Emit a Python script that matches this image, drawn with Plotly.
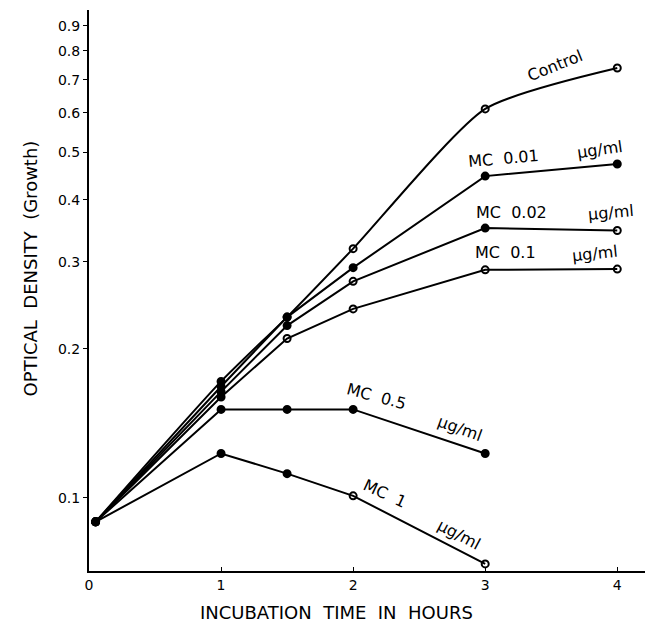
import math
import plotly.graph_objects as go

# ---- data ----
hours_full = [0.05, 1, 1.5, 2, 3, 4]
hours_short = [0.05, 1, 1.5, 2, 3]

control = [0.0895, 0.172, 0.232, 0.319, 0.611, 0.739]
mc_001 = [0.0895, 0.168, 0.232, 0.292, 0.447, 0.473]
mc_002 = [0.0895, 0.164, 0.223, 0.274, 0.351, 0.347]
mc_01 = [0.0895, 0.160, 0.210, 0.241, 0.289, 0.290]
mc_05 = [0.0895, 0.151, 0.151, 0.151, 0.123]
mc_1 = [0.0895, 0.123, 0.112, 0.101, 0.0736]

y_ticks = [0.1, 0.2, 0.3, 0.4, 0.5, 0.6, 0.7, 0.8, 0.9]
y_tick_labels = ["0.1", "0.2", "0.3", "0.4", "0.5", "0.6", "0.7", "0.8", "0.9"]
x_ticks = [0, 1, 2, 3, 4]
x_tick_labels = ["0", "1", "2", "3", "4"]

FONT = "DejaVu Sans"
F, O = "circle", "circle-open"

series = [
    ("Control", hours_full, control, "spline", [F, F, F, O, O, O]),
    ("MC 0.01", hours_full, mc_001, "linear", [F, F, F, F, F, F]),
    ("MC 0.02", hours_full, mc_002, "linear", [F, F, F, O, F, O]),
    ("MC 0.1", hours_full, mc_01, "linear", [F, F, O, O, O, O]),
    ("MC 0.5", hours_short, mc_05, "linear", [F, F, F, F, F]),
    ("MC 1", hours_short, mc_1, "linear", [F, F, F, O, O]),
]

fig = go.Figure()
for name, xs, ys, shape, syms in series:
    fig.add_trace(go.Scatter(
        x=xs, y=ys, mode="lines+markers", name=name,
        line=dict(color="black", width=2, shape=shape, smoothing=0.6),
        marker=dict(symbol=syms, size=7, color="black",
                    line=dict(color="black", width=2)),
        showlegend=False, hoverinfo="skip",
    ))

NB = "\u00a0"
labels = [
    ("Control", 3.53, 0.749, -22),
    ("MC" + NB + " 0.01", 3.14, 0.486, -5),
    ("\u03bcg/ml", 3.87, 0.505, -8),
    ("MC" + NB + " 0.02", 3.20, 0.378, 0),
    ("\u03bcg/ml", 3.95, 0.378, -5),
    ("MC" + NB + " 0.1", 3.15, 0.313, 0),
    ("\u03bcg/ml", 3.83, 0.312, -6),
    ("MC" + NB + " 0.5", 2.18, 0.160, 15),
    ("\u03bcg/ml", 2.81, 0.138, 20),
    ("MC" + NB + " 1", 2.24, 0.1019, 25),
    ("\u03bcg/ml", 2.80, 0.0842, 28),
]
for text, x, y, ang in labels:
    fig.add_annotation(x=x, y=math.log10(y), xref="x", yref="y", text=text,
                       showarrow=False, textangle=ang,
                       font=dict(family=FONT, size=16, color="black"))

fig.add_annotation(x=0.446, y=-0.096, xref="paper", yref="paper",
                   text="INCUBATION" + NB + " TIME" + NB + " IN" + NB + " HOURS",
                   showarrow=False,
                   font=dict(family=FONT, size=18, color="black"))
fig.add_annotation(x=-0.128, y=0.54, xref="paper", yref="paper",
                   text="OPTICAL" + NB + " DENSITY" + NB + " (Growth)",
                   showarrow=False, textangle=-90,
                   font=dict(family=FONT, size=18, color="black"))

fig.update_xaxes(range=[0, 4.21], tickvals=x_ticks, ticktext=x_tick_labels,
                 showgrid=False, zeroline=False, showline=True, linecolor="black",
                 linewidth=2, ticks="inside", ticklen=4, tickcolor="black",
                 tickfont=dict(family=FONT, size=14, color="black"))
fig.update_yaxes(type="log", range=[-1.1475, -0.0141], tickvals=y_ticks,
                 ticktext=y_tick_labels, showgrid=False, zeroline=False,
                 showline=True, linecolor="black", linewidth=2, ticks="outside",
                 ticklen=4, tickcolor="black",
                 tickfont=dict(family=FONT, size=14, color="black"))

fig.update_layout(width=645, height=634, plot_bgcolor="white", paper_bgcolor="white",
                  margin=dict(l=89, r=0, t=10, b=63))

fig.write_html("out.html")
